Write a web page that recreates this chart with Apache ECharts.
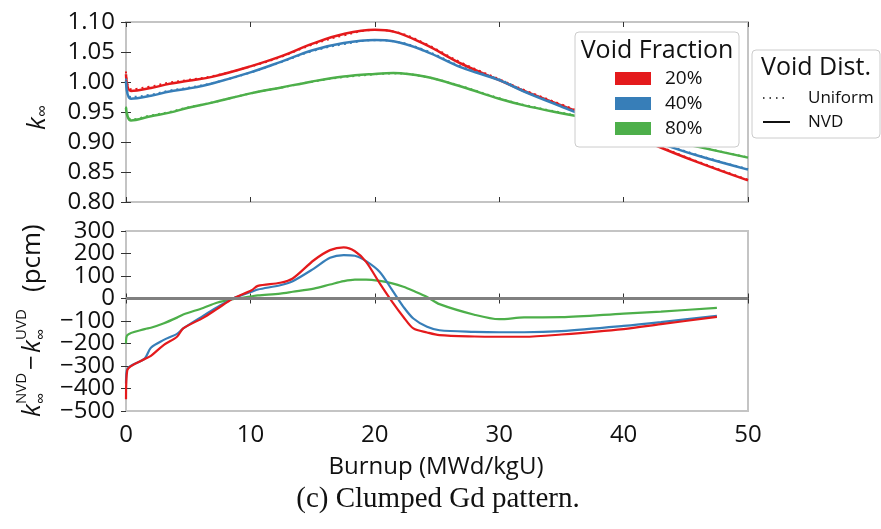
<!DOCTYPE html>
<html>
<head>
<meta charset="utf-8">
<script src="https://cdn.jsdelivr.net/npm/echarts/dist/echarts.min.js"></script>
<style>
  html, body { margin: 0; padding: 0; background: #fff; }
  #chart { width: 881px; height: 529px; }
</style>
</head>
<body>
<div id="chart"></div>
<script>
// burnup points (MWd/kgU) for the k-inf panel
const topBurnup = [0, 0.4, 2, 3.5, 5, 7, 10, 12.5, 15, 17.5, 20, 21.5, 24, 27, 30, 32, 35, 38, 42.5, 46, 50]
const k20Nvd = [1.013, 0.985, 0.990, 0.997, 1.002, 1.009, 1.026, 1.043, 1.064, 1.080, 1.087, 1.084, 1.063, 1.030, 1.003, 0.985, 0.961, 0.937, 0.895, 0.866, 0.836]
const k40Nvd = [1.002, 0.972, 0.977, 0.984, 0.989, 0.998, 1.016, 1.034, 1.053, 1.065, 1.070, 1.068, 1.052, 1.024, 1.003, 0.984, 0.959, 0.935, 0.901, 0.877, 0.854]
const k80Nvd = [0.957, 0.936, 0.943, 0.949, 0.957, 0.966, 0.981, 0.991, 1.001, 1.009, 1.0135, 1.015, 1.009, 0.992, 0.972, 0.961, 0.948, 0.936, 0.909, 0.892, 0.874]
const k20Uni = [1.0175, 0.988, 0.9925, 0.999, 1.0035, 1.0099, 1.0257, 1.0422, 1.0625, 1.0778, 1.0867, 1.0842, 1.0645, 1.0317, 1.0047, 0.9866, 0.9626, 0.9385, 0.8963, 0.8671, 0.837]
const k40Uni = [1.0058, 0.975, 0.979, 0.9857, 0.9903, 0.9985, 1.0157, 1.0334, 1.0516, 1.0631, 1.0696, 1.0679, 1.0531, 1.0254, 1.0045, 0.9855, 0.9604, 0.9362, 0.9021, 0.8779, 0.8547]
const k80Uni = [0.959, 0.9376, 0.9442, 0.95, 0.9576, 0.9662, 0.9809, 0.9908, 1.0005, 1.0082, 1.0127, 1.0144, 1.0089, 0.9927, 0.9729, 0.9618, 0.9488, 0.9367, 0.9096, 0.8925, 0.8744]

// burnup points for the difference panel, values in pcm
const diffBurnup = [0, 0.1, 1.5, 2, 3, 4.1, 4.6, 6.2, 7.3, 8.6, 10.1, 10.6, 12.4, 13.4, 15.1, 16.4, 17.5, 18.4, 19.3, 20.4, 21.4, 22.3, 23.1, 24.2, 25.2, 28, 30, 32, 35, 40, 43, 47.5]
const diff20 = [-448, -319, -269, -255, -208, -170, -133, -86, -47, 0, 37, 56, 70, 89, 170, 215, 227, 210, 163, 67, -15, -82, -133, -151, -163, -169, -170, -170, -160, -136, -114, -82]
const diff40 = [-378, -314, -267, -219, -185, -157, -133, -77, -40, 0, 30, 40, 59, 77, 133, 181, 193, 190, 166, 118, 37, -37, -89, -126, -141, -148, -150, -150, -145, -122, -105, -77]
const diff80 = [-200, -163, -136, -130, -111, -85, -71, -42, -19, -3, 10, 14, 22, 30, 44, 62, 77, 84, 84, 78, 67, 52, 34, 7, -25, -72, -92, -84, -83, -67, -58, -42]

const voidFractions = ['20%', '40%', '80%']
const colors = ['#e41a1c', '#377eb8', '#4daf4a']

const font = '"Open Sans", "Noto Sans", sans-serif'
const pair = (xs, ys) => xs.map((x, i) => [x, ys[i]])
const minus = v => String(v).replace('-', '−')

const tick = { show: true, inside: true, length: 5, lineStyle: { color: '#333', width: 1 } }
const labelStyle = { fontFamily: font, fontSize: 24, color: '#111' }
function xAx (grid, pos, labels) {
  return {
    type: 'value', gridIndex: grid, position: pos, min: 0, max: 50, interval: 10,
    axisLine: { show: false }, axisTick: tick, splitLine: { show: false },
    axisLabel: Object.assign({ show: labels, margin: 12 }, labelStyle)
  }
}
function yAx (grid, pos, min, max, step, fmt, extra) {
  return {
    type: 'value', gridIndex: grid, position: pos, min: min, max: max, interval: step,
    axisLine: { show: false }, axisTick: tick, splitLine: { show: false },
    axisLabel: Object.assign({ show: !!fmt, margin: 11, formatter: fmt }, labelStyle, extra || {})
  }
}

const kSets = [[k20Nvd, k20Uni], [k40Nvd, k40Uni], [k80Nvd, k80Uni]]
const series = []
kSets.forEach((s, i) => {
  series.push({
    type: 'line', xAxisIndex: 0, yAxisIndex: 0, data: pair(topBurnup, s[1]),
    showSymbol: false, smooth: 0.4,
    lineStyle: { color: colors[i], width: 2, type: [2, 4] }
  })
  series.push({
    type: 'line', xAxisIndex: 0, yAxisIndex: 0, data: pair(topBurnup, s[0]),
    showSymbol: false, smooth: 0.4,
    lineStyle: { color: colors[i], width: 2.5 }
  })
})
const diffs = [diff80, diff40, diff20]
const diffColors = [colors[2], colors[1], colors[0]]
diffs.forEach((d, i) => {
  const s = {
    type: 'line', xAxisIndex: 2, yAxisIndex: 2, data: pair(diffBurnup, d),
    showSymbol: false, smooth: 0.3,
    lineStyle: { color: diffColors[i], width: 2.2 }
  }
  if (i === 0) {
    s.markLine = {
      silent: true, symbol: 'none', label: { show: false },
      lineStyle: { color: '#808080', width: 3, type: 'solid' },
      data: [{ yAxis: 0 }]
    }
  }
  series.push(s)
})

function txt (x, y, text, size, opts) {
  return Object.assign({
    type: 'text', x: x, y: y, z: 100,
    style: { text: text, font: size + 'px ' + font, fill: '#111', align: 'left', verticalAlign: 'middle' }
  }, opts || {})
}
function styled (el, extra) { Object.assign(el.style, extra); return el }

const graphics = [
  // void fraction legend
  { type: 'rect', z: 90, shape: { x: 575, y: 32, width: 164, height: 115, r: 4 }, style: { fill: '#fff', stroke: '#cccccc', lineWidth: 1 } },
  styled(txt(657, 51, 'Void Fraction', 25), { align: 'center' }),
  // void distribution legend
  { type: 'rect', z: 90, shape: { x: 752, y: 50, width: 128, height: 88, r: 4 }, style: { fill: '#fff', stroke: '#cccccc', lineWidth: 1 } },
  styled(txt(816, 68, 'Void Dist.', 25), { align: 'center' }),
  { type: 'line', z: 100, shape: { x1: 763, y1: 98, x2: 786, y2: 98 }, style: { stroke: '#111', lineWidth: 1.5, lineDash: [1.5, 5] } },
  txt(808, 98, 'Uniform', 17),
  { type: 'line', z: 100, shape: { x1: 763, y1: 122, x2: 790, y2: 122 }, style: { stroke: '#111', lineWidth: 2 } },
  txt(808, 122, 'NVD', 17),
  // x axis name and caption
  styled(txt(436, 467, 'Burnup (MWd/kgU)', 24), { align: 'center' }),
  styled(txt(438, 499, '(c) Clumped Gd pattern.', 29), { align: 'center', font: '29px "Liberation Serif", "DejaVu Serif", serif' }),
  // y name, top panel
  {
    type: 'group', x: 38, y: 115, rotation: Math.PI / 2, z: 100,
    children: [
      styled(txt(-15, 0, 'k', 26), { font: 'italic 26px ' + font }),
      txt(-2, 5, '∞', 17)
    ]
  },
  // y name, bottom panel
  {
    type: 'group', x: 33, y: 320, rotation: Math.PI / 2, z: 100,
    children: [
      styled(txt(-97, 0, 'k', 26), { font: 'italic 26px ' + font }),
      txt(-84, -11, 'NVD', 15),
      txt(-84, 8, '∞', 16),
      txt(-50, 0, '−', 26),
      styled(txt(-33, 0, 'k', 26), { font: 'italic 26px ' + font }),
      txt(-20, -11, 'UVD', 15),
      txt(-20, 8, '∞', 16),
      txt(28, 0, '(pcm)', 26)
    ]
  }
]
voidFractions.forEach((name, i) => {
  const y = 72 + i * 25
  graphics.push({ type: 'rect', z: 100, shape: { x: 615, y: y, width: 36, height: 13 }, style: { fill: colors[i] } })
  graphics.push(txt(665, y + 7, name, 19))
})

// bottom panel: inner labels on one axis, the two end labels on a second one,
// so the tight 24px labels are not dropped by the overlap check
const endLabels = yAx(1, 'left', -500, 300, 800, minus)
endLabels.axisTick = { show: false }

const option = {
  animation: false,
  backgroundColor: '#fff',
  grid: [
    { left: 126, top: 22, width: 622, height: 180, show: true, borderColor: '#c4c4c4', borderWidth: 2, backgroundColor: '#fff' },
    { left: 126, top: 231, width: 622, height: 180, show: true, borderColor: '#c4c4c4', borderWidth: 2, backgroundColor: '#fff' }
  ],
  xAxis: [xAx(0, 'bottom', false), xAx(0, 'top', false), xAx(1, 'bottom', true), xAx(1, 'top', false)],
  yAxis: [
    yAx(0, 'left', 0.8, 1.1, 0.05, v => v.toFixed(2)),
    yAx(0, 'right', 0.8, 1.1, 0.05, null),
    yAx(1, 'left', -500, 300, 100, minus, { showMinLabel: false, showMaxLabel: false }),
    yAx(1, 'right', -500, 300, 100, null),
    endLabels
  ],
  series: series,
  graphic: graphics
}

const chart = echarts.init(document.getElementById('chart'))
chart.setOption(option)
window.addEventListener('resize', () => chart.resize())
</script>
</body>
</html>
